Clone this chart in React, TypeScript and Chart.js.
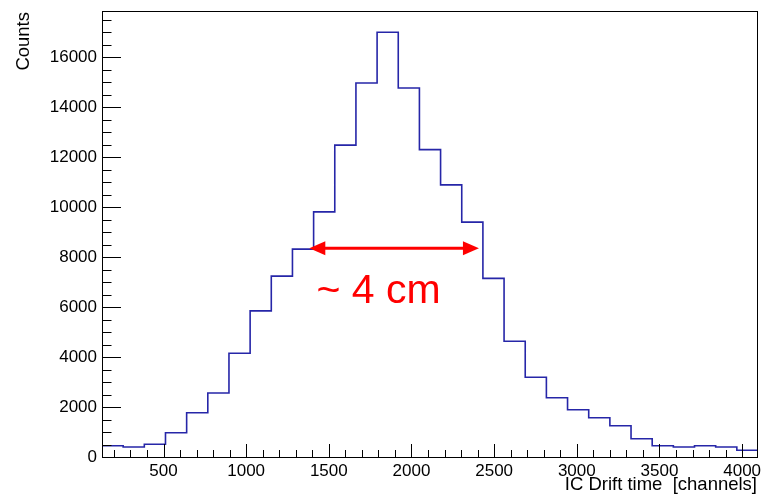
import React, { useEffect, useRef } from "react";
import { Chart, registerables } from "chart.js";

Chart.register(...registerables);

// Histogram bin lower edges (channels), bin width 128
const binEdges = [
  128, 256, 384, 512, 640, 768, 896, 1024, 1152, 1280, 1408, 1536, 1664, 1792, 1920, 2048,
  2176, 2304, 2432, 2560, 2688, 2816, 2944, 3072, 3200, 3328, 3456, 3584, 3712, 3840, 3968,
];
const upperEdge = 4096;
// Counts per bin
const counts = [
  450, 400, 510, 970, 1770, 2560, 4150, 5850, 7240, 8320, 9810, 12480, 14970, 17000, 14770, 12300,
  10890, 9400, 7150, 4630, 3190, 2370, 1890, 1570, 1250, 730, 450, 400, 450, 400, 270,
];
const xTickLabels = [500, 1000, 1500, 2000, 2500, 3000, 3500, 4000];
const yTickLabels = [0, 2000, 4000, 6000, 8000, 10000, 12000, 14000, 16000];
const xMin = 128;
const xMax = 4096;
const yMin = 0;
const yMax = 17850;
const xTitle = "IC Drift time  [channels]";
const yTitle = "Counts";
// FWHM annotation (data coordinates)
const arrowFrom = 1382;
const arrowTo = 2408;
const arrowLevel = 8350;
const annotationText = "~ 4 cm";
const annotationX = 1425;
const annotationY = 6160;

const FONT = "'Liberation Sans', Arial, Helvetica, sans-serif";

export default function App() {
  const ref = useRef<HTMLCanvasElement>(null);

  useEffect(() => {
    if (!ref.current) return;
    const points = binEdges.map((e, i) => ({ x: e, y: counts[i] }));
    points.push({ x: upperEdge, y: counts[counts.length - 1] });

    const rootPlugin = {
      id: "rootStyle",
      afterDraw(chart: any) {
        const ctx = chart.ctx as CanvasRenderingContext2D;
        const { left, right, top, bottom } = chart.chartArea;
        const xs = chart.scales.x;
        const ys = chart.scales.y;
        ctx.save();
        // frame
        ctx.strokeStyle = "#000";
        ctx.lineWidth = 1;
        ctx.strokeRect(Math.round(left) + 0.5, Math.round(top) + 0.5, Math.round(right - left) - 1, Math.round(bottom - top));
        // x ticks (inside)
        ctx.beginPath();
        for (let v = 200; v <= xMax; v += 100) {
          if (v <= xMin) continue;
          const px = Math.round(xs.getPixelForValue(v)) + 0.5;
          const len = v % 500 === 0 ? 13 : 7;
          ctx.moveTo(px, bottom);
          ctx.lineTo(px, bottom - len);
        }
        // y ticks (inside)
        for (let v = 500; v <= yMax; v += 500) {
          const py = Math.round(ys.getPixelForValue(v)) + 0.5;
          const len = v % 2000 === 0 ? 19 : 9.5;
          ctx.moveTo(left, py);
          ctx.lineTo(left + len, py);
        }
        ctx.stroke();

        // titles
        ctx.fillStyle = "#000";
        ctx.font = `18.5px ${FONT}`;
        ctx.textAlign = "right";
        ctx.textBaseline = "alphabetic";
        ctx.fillText(xTitle, 757, 490);
        ctx.save();
        ctx.translate(29, 12);
        ctx.rotate(-Math.PI / 2);
        ctx.textAlign = "right";
        ctx.textBaseline = "alphabetic";
        ctx.fillText(yTitle, 0, 0);
        ctx.restore();

        // arrow
        const ax1 = xs.getPixelForValue(arrowFrom);
        const ax2 = xs.getPixelForValue(arrowTo);
        const ay = ys.getPixelForValue(arrowLevel);
        const headL = 16;
        const headH = 7;
        ctx.strokeStyle = "#ff0000";
        ctx.fillStyle = "#ff0000";
        ctx.lineWidth = 3;
        ctx.beginPath();
        ctx.moveTo(ax1 + headL - 2, ay);
        ctx.lineTo(ax2 - headL + 2, ay);
        ctx.stroke();
        ctx.beginPath();
        ctx.moveTo(ax1, ay);
        ctx.lineTo(ax1 + headL, ay - headH);
        ctx.lineTo(ax1 + headL, ay + headH);
        ctx.closePath();
        ctx.fill();
        ctx.beginPath();
        ctx.moveTo(ax2, ay);
        ctx.lineTo(ax2 - headL, ay - headH);
        ctx.lineTo(ax2 - headL, ay + headH);
        ctx.closePath();
        ctx.fill();

        // annotation text
        ctx.font = `41px ${FONT}`;
        ctx.textAlign = "left";
        ctx.textBaseline = "alphabetic";
        ctx.fillText(annotationText, xs.getPixelForValue(annotationX), ys.getPixelForValue(annotationY));
        ctx.restore();
      },
    };

    const chart = new Chart(ref.current, {
      type: "line",
      data: {
        datasets: [
          {
            data: points,
            stepped: "before",
            borderColor: "#2626a8",
            borderWidth: 1.6,
            pointRadius: 0,
            fill: false,
          },
        ],
      },
      options: {
        animation: false,
        responsive: false,
        parsing: false as any,
        layout: { padding: { top: 11, right: 3, left: 0, bottom: 0 } },
        plugins: { legend: { display: false }, tooltip: { enabled: false } },
        scales: {
          x: {
            type: "linear",
            min: xMin,
            max: xMax,
            afterFit: (s: any) => {
              s.height = 40;
              s.paddingLeft = 0;
              s.paddingRight = 0;
            },
            afterBuildTicks: (s: any) => {
              s.ticks = xTickLabels.map((value) => ({ value }));
            },
            grid: { display: false, drawTicks: false },
            border: { display: false },
            ticks: {
              color: "#000",
              font: { family: FONT, size: 17 },
              padding: 4,
              maxRotation: 0,
              autoSkip: false,
              callback: (v: any) => String(v),
            },
          },
          y: {
            type: "linear",
            min: yMin,
            max: yMax,
            afterFit: (s: any) => {
              s.width = 102;
              s.paddingTop = 0;
              s.paddingBottom = 0;
            },
            afterBuildTicks: (s: any) => {
              s.ticks = yTickLabels.map((value) => ({ value }));
            },
            grid: { display: false, drawTicks: false },
            border: { display: false },
            ticks: {
              color: "#000",
              font: { family: FONT, size: 17 },
              padding: 5,
              autoSkip: false,
              callback: (v: any) => String(v),
            },
          },
        },
      },
      plugins: [rootPlugin],
    });
    return () => chart.destroy();
  }, []);

  return (
    <div style={{ position: "absolute", left: 0, top: 0, width: 761, height: 497, background: "#fff" }}>
      <canvas ref={ref} width={761} height={497} style={{ display: "block" }} />
    </div>
  );
}
